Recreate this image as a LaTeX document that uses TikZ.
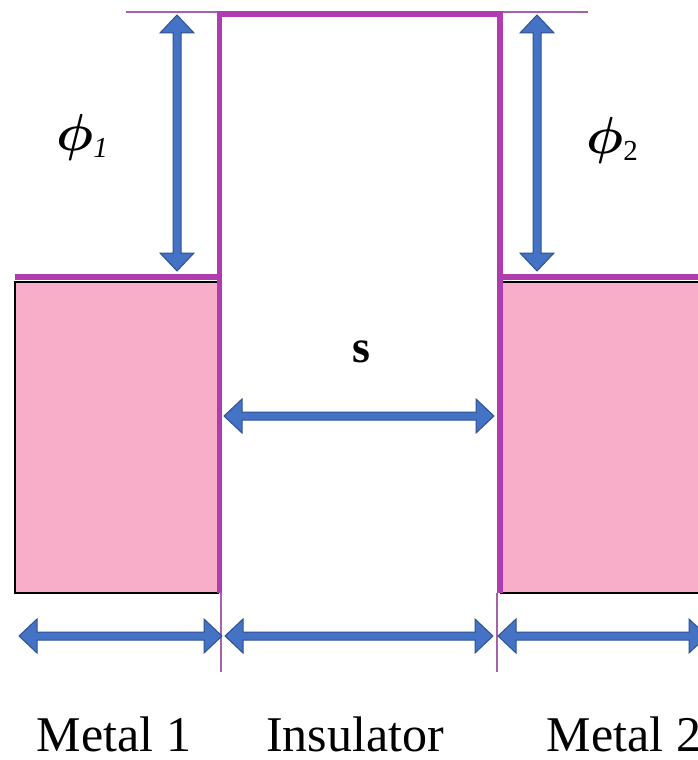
\RequirePackage{fix-cm}
\documentclass[tikz,border=0pt]{standalone}
\usepackage{fontspec}
\setmainfont{Liberation Serif}
\usetikzlibrary{calc}
\definecolor{bandpurple}{HTML}{B03CB0}
\definecolor{guidepurple}{HTML}{A462AA}
\definecolor{metalpink}{HTML}{F8AEC8}
\definecolor{arrowblue}{HTML}{4472C4}
\definecolor{arrowedge}{HTML}{2F528F}
\tikzset{
  band/.style={bandpurple, line width=5.5pt, line join=miter},
  guide/.style={guidepurple, line width=1.4pt},
  metal/.style={black, line width=1.6pt},
  blockarrow/.style={fill=arrowblue, draw=arrowedge, line width=1pt, line join=miter},
  lbl/.style={font=\fontsize{50}{50}\selectfont, inner sep=0pt},
  philbl/.style={font=\fontsize{52}{52}\selectfont\boldmath, inner sep=0pt}
}
\newcommand{\dimarrow}[2]{%
  \filldraw[blockarrow] (#1)
    -- ($(#1)!18pt!(#2)!17pt!90:(#2)$)
    -- ($(#1)!18pt!(#2)!4pt!90:(#2)$)
    -- ($(#2)!18pt!(#1)!4pt!-90:(#1)$)
    -- ($(#2)!18pt!(#1)!17pt!-90:(#1)$)
    -- (#2)
    -- ($(#2)!18pt!(#1)!17pt!90:(#1)$)
    -- ($(#2)!18pt!(#1)!4pt!90:(#1)$)
    -- ($(#1)!18pt!(#2)!4pt!-90:(#2)$)
    -- ($(#1)!18pt!(#2)!17pt!-90:(#2)$)
    -- cycle;}
\newcommand{\subidx}[1]{\raisebox{-7pt}{\fontsize{29}{29}\selectfont #1}}

\begin{document}
\begin{tikzpicture}[x=1pt,y=-1pt]
\useasboundingbox (0,0) rectangle (698,760);
\fill[white] (0,0) rectangle (698,760);
\fill[metalpink] (15,282) rectangle (219,593);
\draw[metal] (219,282) -- (15,282) -- (15,593) -- (219,593);
\fill[metalpink] (500,282) rectangle (712,593);
\draw[metal] (500,282) -- (712,282);
\draw[metal] (500,593) -- (712,593);
\draw[guide] (126,12) -- (588,12);
\draw[guide] (221,593) -- (221,672);
\draw[guide] (497,593) -- (497,672);
\draw[band] (219.5,593) -- (219.5,14) -- (500,14) -- (500,593);
\draw[band] (15,277) -- (219.5,277);
\draw[band] (500,277) -- (712,277);
\coordinate (phionetop) at (177,15);
\coordinate (phionebot) at (177,271);
\coordinate (phitwotop) at (537,15);
\coordinate (phitwobot) at (537,271);
\coordinate (sleft) at (224,416);
\coordinate (sright) at (494,416);
\coordinate (metaloneleft) at (19,636);
\coordinate (metaloneright) at (222,636);
\coordinate (insleft) at (225,636);
\coordinate (insright) at (493,636);
\coordinate (metaltwoleft) at (498,636);
\coordinate (metaltworight) at (707,636);
\dimarrow{phionetop}{phionebot}
\dimarrow{phitwotop}{phitwobot}
\dimarrow{sleft}{sright}
\dimarrow{metaloneleft}{metaloneright}
\dimarrow{insleft}{insright}
\dimarrow{metaltwoleft}{metaltworight}
\node[philbl] (phione) at (82,137) {$\phi$\subidx{\itshape 1}};
\node[philbl] (phitwo) at (612,140) {$\phi$\subidx{2}};
\node[lbl, font=\fontsize{46}{46}\selectfont\bfseries] (gap) at (361,352) {s};
\node[lbl, anchor=base] (metalone) at (114,751) {Metal 1};
\node[lbl, anchor=base] (insulator) at (355,751) {Insulator};
\node[lbl, anchor=base] (metaltwo) at (624,751) {Metal 2};
\end{tikzpicture}
\end{document}
